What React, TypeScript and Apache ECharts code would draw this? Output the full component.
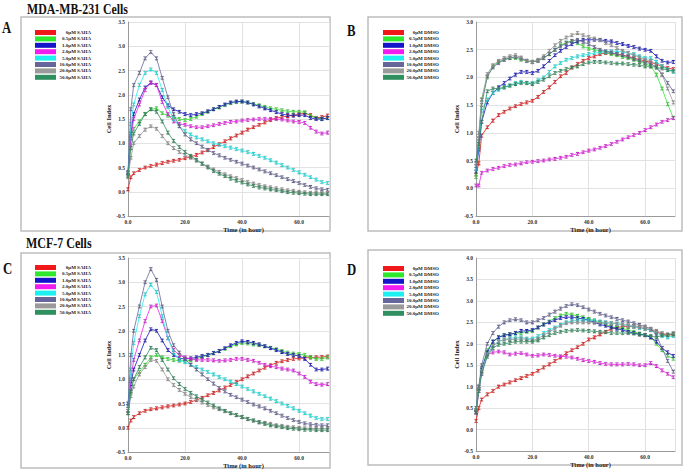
import React, { useEffect, useRef } from "react";
import * as echarts from "echarts";

// time points (hours)
const TIME = [0, 1, 2, 4, 6, 8, 10, 12, 14, 16, 18, 20, 22, 24, 26, 28, 30, 32, 34, 36, 38, 40, 42, 44, 46, 48, 50, 52, 54, 56, 58, 60, 62, 64, 66, 68, 70];

const DOSES = ["0μM", "0.5μM", "1.0μM", "2.0μM", "5.0μM", "10.0μM", "20.0μM", "50.0μM"];
const COLORS = ["#f01818", "#2ee82e", "#1414c8", "#f01cf0", "#1cf0f0", "#66669a", "#9a9a9a", "#2f8f5f"];
const X_TICKS = ["0.0", "20.0", "40.0", "60.0"];

// Panel A: MDA-MB-231, SAHA
const A0 = [0.05, 0.30, 0.38, 0.45, 0.50, 0.53, 0.56, 0.59, 0.62, 0.64, 0.66, 0.69, 0.72, 0.76, 0.81, 0.86, 0.92, 0.98, 1.04, 1.10, 1.16, 1.22, 1.28, 1.33, 1.38, 1.43, 1.48, 1.52, 1.54, 1.56, 1.58, 1.60, 1.62, 1.58, 1.52, 1.54, 1.57];
const A1 = [0.35, 1.10, 1.30, 1.45, 1.60, 1.70, 1.72, 1.62, 1.57, 1.54, 1.50, 1.48, 1.50, 1.55, 1.60, 1.65, 1.70, 1.74, 1.79, 1.83, 1.85, 1.86, 1.84, 1.81, 1.78, 1.75, 1.72, 1.70, 1.68, 1.66, 1.65, 1.65, 1.64, 1.56, 1.52, 1.50, 1.52];
const A2 = [0.38, 1.20, 1.60, 1.90, 2.15, 2.25, 2.20, 1.95, 1.78, 1.70, 1.65, 1.60, 1.58, 1.60, 1.62, 1.66, 1.70, 1.75, 1.80, 1.84, 1.86, 1.86, 1.84, 1.80, 1.76, 1.72, 1.68, 1.64, 1.60, 1.58, 1.57, 1.58, 1.58, 1.52, 1.50, 1.50, 1.52];
const A3 = [0.40, 1.10, 1.50, 1.80, 2.10, 2.25, 2.20, 1.85, 1.60, 1.45, 1.40, 1.38, 1.35, 1.33, 1.33, 1.35, 1.37, 1.40, 1.42, 1.44, 1.45, 1.47, 1.48, 1.49, 1.50, 1.50, 1.50, 1.50, 1.49, 1.47, 1.45, 1.44, 1.42, 1.32, 1.24, 1.20, 1.22];
const A4 = [0.38, 1.40, 1.80, 2.20, 2.45, 2.52, 2.45, 2.10, 1.75, 1.50, 1.35, 1.25, 1.18, 1.12, 1.08, 1.04, 1.00, 0.97, 0.94, 0.91, 0.88, 0.85, 0.82, 0.78, 0.74, 0.70, 0.65, 0.60, 0.55, 0.50, 0.45, 0.40, 0.35, 0.30, 0.25, 0.20, 0.18];
const A5 = [0.40, 1.70, 2.20, 2.45, 2.75, 2.88, 2.75, 2.35, 1.95, 1.60, 1.35, 1.18, 1.08, 1.00, 0.93, 0.86, 0.80, 0.75, 0.70, 0.66, 0.62, 0.58, 0.54, 0.50, 0.46, 0.42, 0.38, 0.34, 0.30, 0.26, 0.22, 0.18, 0.14, 0.10, 0.07, 0.05, 0.04];
const A6 = [0.30, 0.70, 1.00, 1.15, 1.28, 1.35, 1.30, 1.15, 1.00, 0.90, 0.82, 0.76, 0.70, 0.64, 0.58, 0.52, 0.46, 0.41, 0.36, 0.32, 0.28, 0.24, 0.20, 0.17, 0.14, 0.11, 0.09, 0.07, 0.05, 0.03, 0.02, 0.00, -0.01, -0.02, -0.02, -0.03, -0.03];
const A7 = [0.32, 0.90, 1.20, 1.40, 1.60, 1.70, 1.65, 1.45, 1.22, 1.05, 0.92, 0.82, 0.74, 0.66, 0.58, 0.50, 0.43, 0.37, 0.32, 0.27, 0.23, 0.19, 0.15, 0.12, 0.09, 0.07, 0.05, 0.03, 0.01, -0.01, -0.02, -0.03, -0.04, -0.05, -0.05, -0.05, -0.05];

// Panel B: MDA-MB-231, DMSO
const B0 = [0.25, 0.45, 0.95, 1.10, 1.22, 1.32, 1.38, 1.44, 1.48, 1.52, 1.55, 1.58, 1.65, 1.74, 1.82, 1.92, 2.02, 2.08, 2.18, 2.24, 2.30, 2.35, 2.38, 2.42, 2.44, 2.44, 2.42, 2.40, 2.38, 2.35, 2.32, 2.30, 2.27, 2.24, 2.20, 2.17, 2.15];
const B1 = [0.20, 0.90, 1.60, 2.00, 2.20, 2.28, 2.32, 2.35, 2.35, 2.32, 2.30, 2.28, 2.30, 2.35, 2.42, 2.50, 2.58, 2.63, 2.65, 2.62, 2.56, 2.52, 2.50, 2.47, 2.45, 2.42, 2.40, 2.37, 2.35, 2.32, 2.28, 2.25, 2.20, 2.05, 1.80, 1.52, 1.27];
const B2 = [0.30, 0.70, 1.20, 1.55, 1.72, 1.82, 1.90, 1.98, 2.05, 2.10, 2.10, 2.08, 2.12, 2.20, 2.30, 2.40, 2.48, 2.55, 2.60, 2.65, 2.68, 2.68, 2.68, 2.68, 2.66, 2.65, 2.62, 2.60, 2.57, 2.55, 2.52, 2.50, 2.48, 2.38, 2.30, 2.27, 2.28];
const B3 = [0.05, 0.05, 0.28, 0.32, 0.35, 0.37, 0.40, 0.42, 0.43, 0.45, 0.47, 0.48, 0.49, 0.50, 0.52, 0.53, 0.55, 0.57, 0.60, 0.62, 0.65, 0.68, 0.70, 0.73, 0.76, 0.80, 0.84, 0.88, 0.92, 0.96, 1.00, 1.05, 1.10, 1.15, 1.20, 1.23, 1.27];
const B4 = [0.35, 0.80, 1.40, 1.60, 1.72, 1.78, 1.82, 1.86, 1.90, 1.92, 1.90, 1.90, 1.95, 2.00, 2.10, 2.20, 2.26, 2.32, 2.35, 2.38, 2.40, 2.42, 2.44, 2.45, 2.46, 2.47, 2.47, 2.46, 2.44, 2.42, 2.38, 2.35, 2.35, 2.28, 2.20, 2.14, 2.10];
const B5 = [0.40, 0.90, 1.50, 2.02, 2.18, 2.26, 2.32, 2.35, 2.37, 2.34, 2.30, 2.28, 2.30, 2.35, 2.42, 2.50, 2.56, 2.62, 2.66, 2.68, 2.64, 2.60, 2.55, 2.50, 2.47, 2.45, 2.42, 2.40, 2.37, 2.33, 2.30, 2.27, 2.25, 2.18, 2.05, 1.90, 1.75];
const B6 = [0.45, 1.00, 1.60, 2.06, 2.22, 2.30, 2.35, 2.38, 2.40, 2.36, 2.30, 2.28, 2.32, 2.38, 2.48, 2.58, 2.66, 2.72, 2.76, 2.80, 2.76, 2.73, 2.70, 2.67, 2.62, 2.58, 2.53, 2.48, 2.44, 2.40, 2.36, 2.32, 2.30, 2.22, 2.05, 1.80, 1.55];
const B7 = [0.50, 0.80, 1.20, 1.75, 1.80, 1.80, 1.82, 1.85, 1.88, 1.90, 1.90, 1.88, 1.92, 1.96, 2.02, 2.08, 2.12, 2.15, 2.18, 2.20, 2.24, 2.27, 2.28, 2.28, 2.27, 2.26, 2.25, 2.25, 2.24, 2.23, 2.22, 2.20, 2.20, 2.18, 2.16, 2.13, 2.12];

// Panel C: MCF-7, SAHA
const C0 = [0.00, 0.15, 0.22, 0.30, 0.35, 0.38, 0.40, 0.42, 0.44, 0.46, 0.48, 0.50, 0.53, 0.57, 0.62, 0.67, 0.72, 0.77, 0.83, 0.88, 0.94, 1.00, 1.06, 1.12, 1.18, 1.24, 1.29, 1.34, 1.37, 1.40, 1.42, 1.43, 1.44, 1.45, 1.45, 1.46, 1.47];
const C1 = [0.30, 0.75, 1.00, 1.15, 1.30, 1.45, 1.50, 1.45, 1.42, 1.40, 1.38, 1.38, 1.39, 1.42, 1.46, 1.50, 1.54, 1.58, 1.63, 1.68, 1.72, 1.75, 1.74, 1.72, 1.70, 1.68, 1.65, 1.62, 1.58, 1.55, 1.53, 1.52, 1.50, 1.45, 1.42, 1.42, 1.45];
const C2 = [0.50, 0.90, 1.20, 1.50, 1.80, 2.03, 2.00, 1.80, 1.60, 1.50, 1.43, 1.42, 1.43, 1.45, 1.48, 1.50, 1.54, 1.58, 1.64, 1.70, 1.75, 1.78, 1.77, 1.75, 1.72, 1.68, 1.64, 1.60, 1.56, 1.52, 1.50, 1.48, 1.42, 1.30, 1.20, 1.20, 1.22];
const C3 = [0.35, 1.00, 1.40, 1.80, 2.20, 2.50, 2.52, 2.20, 1.85, 1.60, 1.50, 1.45, 1.42, 1.40, 1.40, 1.40, 1.39, 1.38, 1.39, 1.40, 1.42, 1.42, 1.40, 1.38, 1.34, 1.30, 1.27, 1.25, 1.22, 1.20, 1.18, 1.12, 1.05, 0.95, 0.90, 0.89, 0.90];
const C4 = [0.45, 1.20, 1.75, 2.30, 2.75, 2.95, 2.80, 2.30, 1.85, 1.55, 1.40, 1.35, 1.30, 1.25, 1.20, 1.15, 1.10, 1.05, 1.00, 0.95, 0.90, 0.85, 0.80, 0.75, 0.70, 0.65, 0.60, 0.55, 0.50, 0.45, 0.40, 0.35, 0.30, 0.25, 0.20, 0.18, 0.18];
const C5 = [0.45, 1.50, 2.00, 2.50, 3.00, 3.27, 3.05, 2.50, 2.00, 1.70, 1.55, 1.42, 1.30, 1.20, 1.10, 1.00, 0.91, 0.82, 0.75, 0.68, 0.63, 0.58, 0.53, 0.48, 0.44, 0.40, 0.35, 0.30, 0.25, 0.20, 0.16, 0.12, 0.09, 0.07, 0.06, 0.05, 0.05];
const C6 = [0.30, 0.65, 0.85, 1.10, 1.25, 1.40, 1.38, 1.20, 1.00, 0.88, 0.78, 0.70, 0.63, 0.58, 0.52, 0.47, 0.42, 0.38, 0.34, 0.30, 0.26, 0.22, 0.18, 0.15, 0.12, 0.10, 0.08, 0.05, 0.04, 0.02, 0.01, 0.00, -0.01, -0.01, -0.02, -0.02, -0.02];
const C7 = [0.30, 0.75, 1.00, 1.25, 1.45, 1.65, 1.60, 1.40, 1.20, 1.02, 0.90, 0.80, 0.72, 0.65, 0.58, 0.52, 0.46, 0.40, 0.35, 0.30, 0.26, 0.22, 0.18, 0.15, 0.11, 0.08, 0.05, 0.03, 0.01, -0.01, -0.02, -0.03, -0.04, -0.04, -0.05, -0.05, -0.05];

// Panel D: MCF-7, DMSO
const D0 = [0.20, 0.50, 0.70, 0.82, 0.90, 1.00, 1.05, 1.10, 1.15, 1.20, 1.25, 1.30, 1.37, 1.45, 1.52, 1.60, 1.68, 1.78, 1.85, 1.92, 2.00, 2.10, 2.15, 2.22, 2.28, 2.35, 2.38, 2.40, 2.40, 2.40, 2.38, 2.35, 2.32, 2.28, 2.22, 2.20, 2.22];
const D1 = [0.45, 1.00, 1.40, 1.85, 2.05, 2.15, 2.20, 2.22, 2.25, 2.25, 2.28, 2.30, 2.38, 2.45, 2.52, 2.60, 2.66, 2.70, 2.68, 2.65, 2.62, 2.58, 2.54, 2.50, 2.45, 2.40, 2.37, 2.35, 2.32, 2.28, 2.24, 2.20, 2.15, 2.00, 1.85, 1.72, 1.65];
const D2 = [0.40, 0.95, 1.40, 1.80, 2.05, 2.15, 2.20, 2.22, 2.25, 2.30, 2.30, 2.32, 2.38, 2.45, 2.50, 2.55, 2.60, 2.62, 2.62, 2.60, 2.58, 2.55, 2.50, 2.45, 2.42, 2.38, 2.35, 2.32, 2.28, 2.25, 2.22, 2.20, 2.15, 2.05, 1.90, 1.80, 1.72];
const D3 = [0.40, 0.90, 1.30, 1.75, 1.80, 1.82, 1.80, 1.75, 1.77, 1.78, 1.75, 1.72, 1.73, 1.75, 1.74, 1.72, 1.71, 1.70, 1.68, 1.65, 1.62, 1.60, 1.58, 1.55, 1.53, 1.52, 1.52, 1.52, 1.53, 1.52, 1.50, 1.50, 1.55, 1.48, 1.38, 1.30, 1.22];
const D4 = [0.45, 0.95, 1.35, 1.75, 1.95, 2.05, 2.10, 2.12, 2.15, 2.15, 2.12, 2.12, 2.18, 2.25, 2.32, 2.38, 2.44, 2.50, 2.53, 2.55, 2.55, 2.55, 2.54, 2.52, 2.50, 2.48, 2.47, 2.45, 2.42, 2.40, 2.37, 2.35, 2.32, 2.25, 2.18, 2.15, 2.18];
const D5 = [0.50, 1.00, 1.50, 2.00, 2.25, 2.40, 2.50, 2.55, 2.57, 2.55, 2.50, 2.50, 2.55, 2.60, 2.68, 2.75, 2.82, 2.88, 2.92, 2.90, 2.85, 2.80, 2.75, 2.70, 2.66, 2.62, 2.58, 2.55, 2.52, 2.48, 2.44, 2.40, 2.35, 2.20, 1.90, 1.60, 1.35];
const D6 = [0.45, 0.95, 1.35, 1.75, 1.95, 2.05, 2.10, 2.10, 2.10, 2.12, 2.10, 2.08, 2.12, 2.20, 2.28, 2.35, 2.42, 2.48, 2.50, 2.50, 2.50, 2.50, 2.50, 2.50, 2.49, 2.48, 2.46, 2.45, 2.43, 2.42, 2.40, 2.38, 2.35, 2.30, 2.25, 2.22, 2.25];
const D7 = [0.40, 0.90, 1.30, 1.70, 1.90, 1.98, 2.00, 2.02, 2.05, 2.05, 2.05, 2.05, 2.08, 2.15, 2.20, 2.25, 2.28, 2.30, 2.31, 2.32, 2.31, 2.30, 2.29, 2.28, 2.27, 2.25, 2.25, 2.25, 2.25, 2.24, 2.22, 2.20, 2.18, 2.15, 2.20, 2.20, 2.22];

const TITLE_TOP = "MDA-MB-231 Cells";
const TITLE_BOTTOM = "MCF-7 Cells";

const FONT = "'Liberation Serif', 'Times New Roman', serif";

const PANELS = [
  { letter: "A", drug: "SAHA", series: [A0, A1, A2, A3, A4, A5, A6, A7], yMin: -0.5, yMax: 3.5,
    grid: { left: 128, top: 22, width: 201, height: 194 }, xMax: 70.5,
    legend: { left: 35, top: 30 }, box: [21, 17, 309, 214], letterPos: [2, 19], nameShift: 30 },
  { letter: "B", drug: "DMSO", series: [B0, B1, B2, B3, B4, B5, B6, B7], yMin: -0.5, yMax: 3.0,
    grid: { left: 476, top: 22, width: 199, height: 194 }, xMax: 70.6,
    legend: { left: 383, top: 30 }, box: [368, 17, 314, 214], letterPos: [347, 22], nameShift: 30 },
  { letter: "C", drug: "SAHA", series: [C0, C1, C2, C3, C4, C5, C6, C7], yMin: -0.5, yMax: 3.5,
    grid: { left: 128, top: 258, width: 201, height: 194 }, xMax: 70.5,
    legend: { left: 35, top: 265 }, box: [21, 253, 309, 215], letterPos: [3, 260], nameShift: 30 },
  { letter: "D", drug: "DMSO", series: [D0, D1, D2, D3, D4, D5, D6, D7], yMin: -0.5, yMax: 4.0,
    grid: { left: 476, top: 258, width: 199, height: 193 }, xMax: 70.6,
    legend: { left: 383, top: 266 }, box: [368, 250, 314, 215], letterPos: [347, 261], nameShift: 30 },
];

const IBEAM = "path://M0,0H6V1.3H3.7V4.7H6V6H0V4.7H2.3V1.3H0Z";

export default function App() {
  const ref = useRef<HTMLDivElement>(null);

  useEffect(() => {
    if (!ref.current) return;
    const chart = echarts.init(ref.current, undefined, { renderer: "svg" });

    const grids = PANELS.map((p) => ({ ...p.grid, containLabel: false }));

    const xAxes = PANELS.map((p, i) => ({
      type: "value",
      gridIndex: i,
      min: 0,
      max: p.xMax,
      interval: 20,
      name: "Time (in hour)",
      nameLocation: "middle",
      nameGap: 9,
      nameTextStyle: { fontFamily: FONT, fontWeight: "bold", fontSize: 6.5, color: "#222", padding: [0, 0, 0, p.nameShift] },
      axisLine: { show: true, onZero: false, lineStyle: { color: "#9a9a9a", width: 1 } },
      axisTick: { show: false },
      axisLabel: {
        fontFamily: FONT, fontWeight: "bold", fontSize: 5.5, color: "#333", margin: 3,
        showMaxLabel: false,
        formatter: (v: number) => X_TICKS[Math.round(v / 20)] ?? "",
      },
      splitLine: { show: true, lineStyle: { color: "#e2e2e2", width: 1 } },
    }));

    const yAxes = PANELS.map((p, i) => ({
      type: "value",
      gridIndex: i,
      min: p.yMin,
      max: p.yMax,
      interval: 0.5,
      name: "Cell Index",
      nameLocation: "middle",
      nameGap: 13,
      nameTextStyle: { fontFamily: FONT, fontWeight: "bold", fontSize: 6.5, color: "#222" },
      axisLine: { show: true, onZero: false, lineStyle: { color: "#9a9a9a", width: 1 } },
      axisTick: { show: false },
      axisLabel: {
        fontFamily: FONT, fontWeight: "bold", fontSize: 5.5, color: "#333", margin: 3,
        formatter: (v: number) => v.toFixed(1),
      },
      splitLine: { show: true, lineStyle: { color: "#e2e2e2", width: 1 } },
    }));

    const series: any[] = [];
    PANELS.forEach((p, i) => {
      p.series.forEach((vals, k) => {
        series.push({
          type: "line",
          name: `${DOSES[k]} ${p.drug}`,
          xAxisIndex: i,
          yAxisIndex: i,
          data: TIME.map((t, j) => [t, vals[j]]),
          color: COLORS[k],
          symbol: IBEAM,
          symbolSize: [3, 3.6],
          showSymbol: true,
          lineStyle: { width: 0.8, color: COLORS[k] },
          itemStyle: { color: COLORS[k], borderColor: "rgba(90,90,90,0.55)", borderWidth: 0.3 },
          emphasis: { disabled: true },
          z: 2 + k,
        });
      });
    });

    const legends = PANELS.map((p) => ({
      show: true,
      orient: "vertical",
      left: p.legend.left,
      top: p.legend.top,
      icon: "rect",
      itemWidth: 21,
      itemHeight: 5,
      itemGap: 1.4,
      padding: 0,
      selectedMode: false,
      data: DOSES.map((d) => `${d} ${p.drug}`),
      itemStyle: { borderWidth: 0 },
      formatter: (name: string) => `{a|${name}}`,
      textStyle: {
        fontFamily: FONT, fontWeight: "bold", fontSize: 5, color: "#222",
        rich: { a: { width: 30, align: "right", fontFamily: FONT, fontWeight: "bold", fontSize: 5, color: "#222" } },
      },
    }));

    const graphics: any[] = [];
    PANELS.forEach((p) => {
      graphics.push({
        type: "rect",
        shape: { x: p.box[0], y: p.box[1], width: p.box[2], height: p.box[3] },
        style: { fill: "none", stroke: "#bdbdbd", lineWidth: 1.5 },
        silent: true,
      });
      graphics.push({
        type: "text",
        x: p.letterPos[0],
        y: p.letterPos[1],
        scaleX: 0.8,
        style: { text: p.letter, fontFamily: FONT, fontWeight: "bold", fontSize: 16, fill: "#111", textVerticalAlign: "top" },
      });
    });
    graphics.push({
      type: "text", x: 27, y: 1, scaleX: 0.79,
      style: { text: TITLE_TOP, fontFamily: FONT, fontWeight: "bold", fontSize: 15, fill: "#111", textVerticalAlign: "top" },
    });
    graphics.push({
      type: "text", x: 26, y: 236, scaleX: 0.8,
      style: { text: TITLE_BOTTOM, fontFamily: FONT, fontWeight: "bold", fontSize: 15, fill: "#111", textVerticalAlign: "top" },
    });

    chart.setOption({
      animation: false,
      backgroundColor: "#ffffff",
      grid: grids,
      xAxis: xAxes,
      yAxis: yAxes,
      legend: legends,
      series,
      graphic: graphics,
    });

    return () => chart.dispose();
  }, []);

  return <div ref={ref} style={{ position: "absolute", left: 0, top: 0, width: 685, height: 470 }} />;
}
